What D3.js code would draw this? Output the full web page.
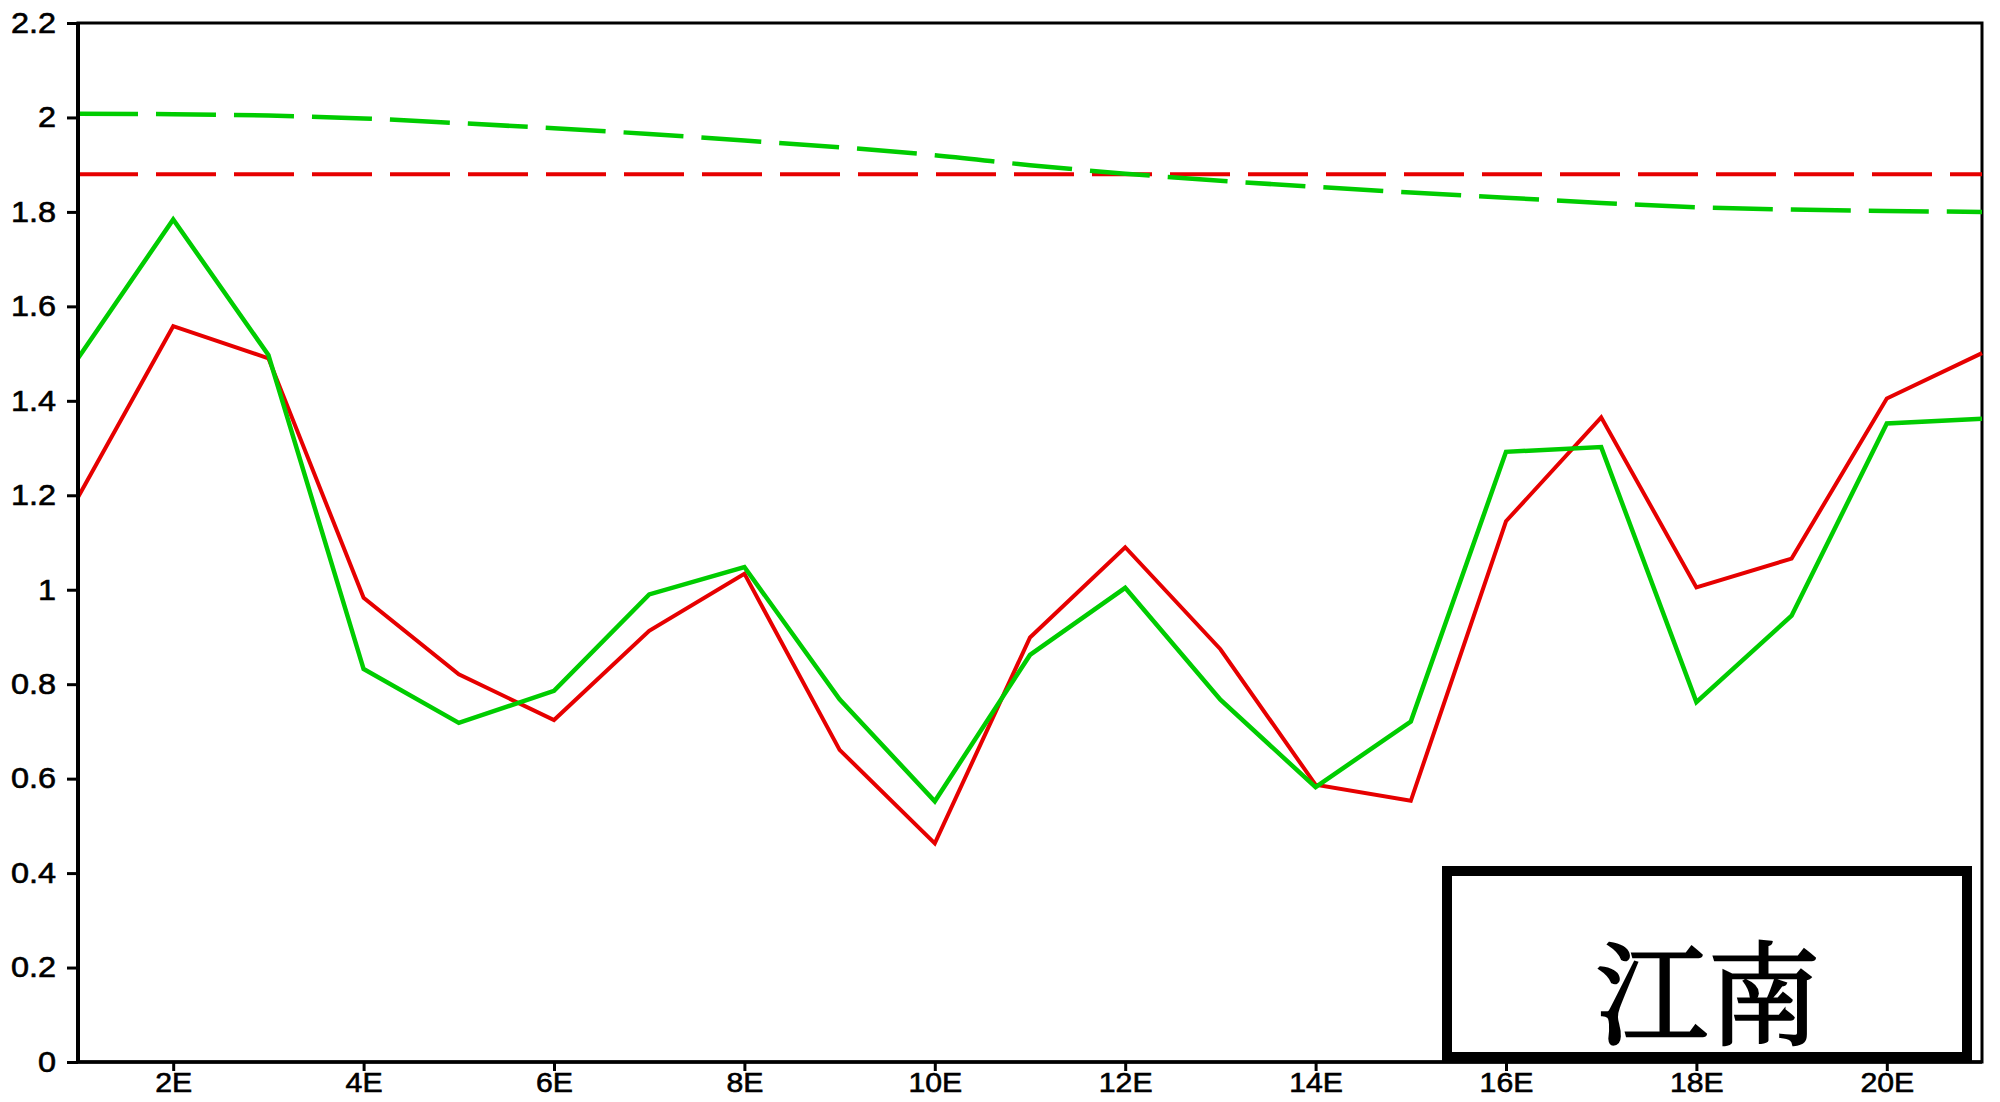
<!DOCTYPE html>
<html>
<head>
<meta charset="utf-8">
<script src="https://cdn.jsdelivr.net/npm/d3@7"></script>
<style>
  html, body { margin: 0; padding: 0; background: #fff; }
</style>
</head>
<body>
<svg id="chart"></svg>
<script>
// x positions (days 1..21)
const days = [1, 2, 3, 4, 5, 6, 7, 8, 9, 10, 11, 12, 13, 14, 15, 16, 17, 18, 19, 20, 21];

const redSolid = [1.196, 1.558, 1.490, 0.983, 0.821, 0.724, 0.913, 1.034, 0.661, 0.463, 0.899,
  1.090, 0.874, 0.587, 0.553, 1.145, 1.365, 1.005, 1.066, 1.405, 1.501];
const greenSolid = [1.490, 1.784, 1.497, 0.832, 0.718, 0.786, 0.990, 1.048, 0.768, 0.552, 0.862,
  1.004, 0.767, 0.582, 0.721, 1.292, 1.302, 0.762, 0.945, 1.352, 1.362];
const redDashed = [1.88, 1.88, 1.88, 1.88, 1.88, 1.88, 1.88, 1.88, 1.88, 1.88, 1.88,
  1.88, 1.88, 1.88, 1.88, 1.88, 1.88, 1.88, 1.88, 1.88, 1.88];
const greenDashed = [2.008, 2.007, 2.004, 1.998, 1.988, 1.977, 1.965, 1.951, 1.937, 1.920, 1.899,
  1.881, 1.866, 1.853, 1.841, 1.830, 1.819, 1.810, 1.805, 1.802, 1.800];

const xTicks = [2, 4, 6, 8, 10, 12, 14, 16, 18, 20];
const xTickLabels = ['2E', '4E', '6E', '8E', '10E', '12E', '14E', '16E', '18E', '20E'];
const yTicks = [0, 0.2, 0.4, 0.6, 0.8, 1, 1.2, 1.4, 1.6, 1.8, 2, 2.2];
const boxLabel = '江南';

const WIDTH = 2000;
const HEIGHT = 1102;
const PADDING_TOP = 23;
const PADDING_BOTTOM = 40;
const PADDING_LEFT = 78;
const PADDING_RIGHT = 18;

const RED = '#e60000';
const GREEN = '#00cc00';
const STRETCH = 1.12;

const svg = d3.select('#chart').
attr('width', WIDTH).
attr('height', HEIGHT).
attr('font-family', '"Liberation Sans", Arial, sans-serif');

svg.append('rect').
attr('width', WIDTH).
attr('height', HEIGHT).
attr('fill', '#fff');

const xScale = d3.scaleLinear().
domain([1, 21]).
range([PADDING_LEFT, WIDTH - PADDING_RIGHT]);

const yScale = d3.scaleLinear().
domain([0, 2.2]).
range([HEIGHT - PADDING_BOTTOM, PADDING_TOP]);

// frame
svg.append('rect').
attr('x', xScale(1)).
attr('y', yScale(2.2)).
attr('width', xScale(21) - xScale(1)).
attr('height', yScale(0) - yScale(2.2)).
attr('fill', 'none').
attr('stroke', '#000').
attr('stroke-width', 3);

// lines
const lineFunc = values => d3.line().
x((d, i) => xScale(days[i])).
y(d => yScale(d))(values);

const smoothLine = values => d3.line().
curve(d3.curveMonotoneX).
x((d, i) => xScale(days[i])).
y(d => yScale(d))(values);

const linesG = svg.append('g').attr('fill', 'none');

linesG.append('path').
attr('d', lineFunc(redDashed)).
attr('stroke', RED).
attr('stroke-width', 4).
attr('stroke-dasharray', '60,18');

linesG.append('path').
attr('d', smoothLine(greenDashed)).
attr('stroke', GREEN).
attr('stroke-width', 4.5).
attr('stroke-dasharray', '60,18');

linesG.append('path').
attr('d', lineFunc(redSolid)).
attr('stroke', RED).
attr('stroke-width', 4).
attr('stroke-linejoin', 'miter');

linesG.append('path').
attr('d', lineFunc(greenSolid)).
attr('stroke', GREEN).
attr('stroke-width', 4.5).
attr('stroke-linejoin', 'miter');

/* --AXES-- */

const yAxis = d3.axisLeft(yScale).
tickValues(yTicks).
tickSize(11).
tickPadding(11).
tickFormat(d => String(+d.toFixed(1)));

const yAxisG = svg.append('g').
attr('transform', `translate(${PADDING_LEFT}, 0)`).
call(yAxis);

yAxisG.select('.domain').
attr('stroke-width', 4).
attr('d', `M0,${yScale(2.2)}V${yScale(0)}`);
yAxisG.selectAll('.tick line').attr('stroke-width', 3);
yAxisG.selectAll('.tick text').
attr('x', -22 / STRETCH).
attr('transform', `scale(${STRETCH},1)`).
attr('font-size', 29).
attr('font-family', '"Liberation Sans", Arial, sans-serif').
attr('fill', '#000').
attr('stroke', '#000').
attr('stroke-width', 0.6);

const xAxis = d3.axisBottom(xScale).
tickValues(xTicks).
tickSize(9).
tickPadding(2).
tickFormat((d, i) => xTickLabels[i]);

const xAxisG = svg.append('g').
attr('transform', `translate(0, ${HEIGHT - PADDING_BOTTOM})`).
call(xAxis);

xAxisG.select('.domain').
attr('stroke-width', 3.5).
attr('d', `M${xScale(1)},0H${xScale(21)}`);
xAxisG.selectAll('.tick line').attr('stroke-width', 3);
xAxisG.selectAll('.tick text').
attr('transform', `scale(${STRETCH},1)`).
attr('font-size', 27).
attr('font-family', '"Liberation Sans", Arial, sans-serif').
attr('fill', '#000').
attr('stroke', '#000').
attr('stroke-width', 0.6);

/* --LABEL BOX-- */

const boxG = svg.append('g');

boxG.append('rect').
attr('x', 1447).
attr('y', 871).
attr('width', 520).
attr('height', 186).
attr('fill', '#fff').
attr('stroke', '#000').
attr('stroke-width', 10);

boxG.append('text').
text(boxLabel).
attr('x', 1708).
attr('y', 987).
attr('text-anchor', 'middle').
attr('dominant-baseline', 'central').
attr('font-size', 112).
attr('font-family', '"Noto Serif CJK SC", "Noto Sans CJK SC", serif').
attr('fill', '#000').
attr('stroke', '#000').
attr('stroke-width', 2.5);
</script>
</body>
</html>
